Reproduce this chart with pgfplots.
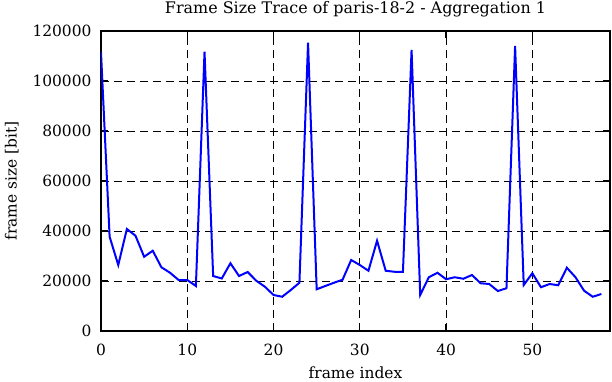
\documentclass[border=0pt]{standalone}
\usepackage{fontspec}
\setmainfont{DejaVu Serif}
\usepackage{pgfplots}
\pgfplotsset{compat=1.18}
\begin{document}
\begin{tikzpicture}
\begin{axis}[
  at={(0,0)}, anchor=south west,
  scale only axis,
  width=509bp, height=300bp,
  xmin=0, xmax=59, ymin=0, ymax=120000,
  xtick={0,10,20,30,40,50},
  xticklabels={0,10,20,30,40,50},
  ytick={0,20000,40000,60000,80000,100000,120000},
  yticklabels={0,20000,40000,60000,80000,100000,120000},
  scaled y ticks=false,
  tick label style={font=\fontsize{15.5}{18}\selectfont},
  label style={font=\fontsize{15.5}{18}\selectfont},
  title style={font=\fontsize{16}{19}\selectfont, yshift=4bp},
  title={Frame Size Trace of paris-18-2 - Aggregation 1},
  xlabel={frame index},
  ylabel={frame size [bit]},
  tick align=inside,
  major tick length=7bp,
  tick style={black, line width=1.2bp},
  axis line style={line width=1.8bp},
  grid=major,
  major grid style={black, line width=0.9bp, dash pattern=on 8bp off 5bp},
  xticklabel style={yshift=-10bp},
  yticklabel style={xshift=-6bp},
  xlabel style={yshift=-4bp},
  ylabel style={yshift=7bp},
]
\addplot[blue, line width=2bp] coordinates {
(0,111500) (1,37700) (2,26400) (3,40800) (4,38100) (5,29700) (6,32100) (7,25500)
(8,23300) (9,20400) (10,20400) (11,18000) (12,111700) (13,22000) (14,21000)
(15,27100) (16,22000) (17,23600) (18,20100) (19,17700) (20,14400) (21,13700)
(22,16400) (23,19300) (24,115300) (25,16700) (26,18000) (27,19300) (28,20500)
(29,28400) (30,26400) (31,24100) (32,36100) (33,24100) (34,23700) (35,23700)
(36,112400) (37,14400) (38,21500) (39,23300) (40,20700) (41,21500) (42,20900)
(43,22400) (44,19100) (45,18800) (46,16000) (47,17100) (48,114000) (49,18400)
(50,23100) (51,17500) (52,18800) (53,18300) (54,25300) (55,21500) (56,16100)
(57,13700) (58,14800)
};
\end{axis}
\pgfresetboundingbox
\path (-101bp,-51bp) rectangle (511bp,331bp);
\end{tikzpicture}
\end{document}
